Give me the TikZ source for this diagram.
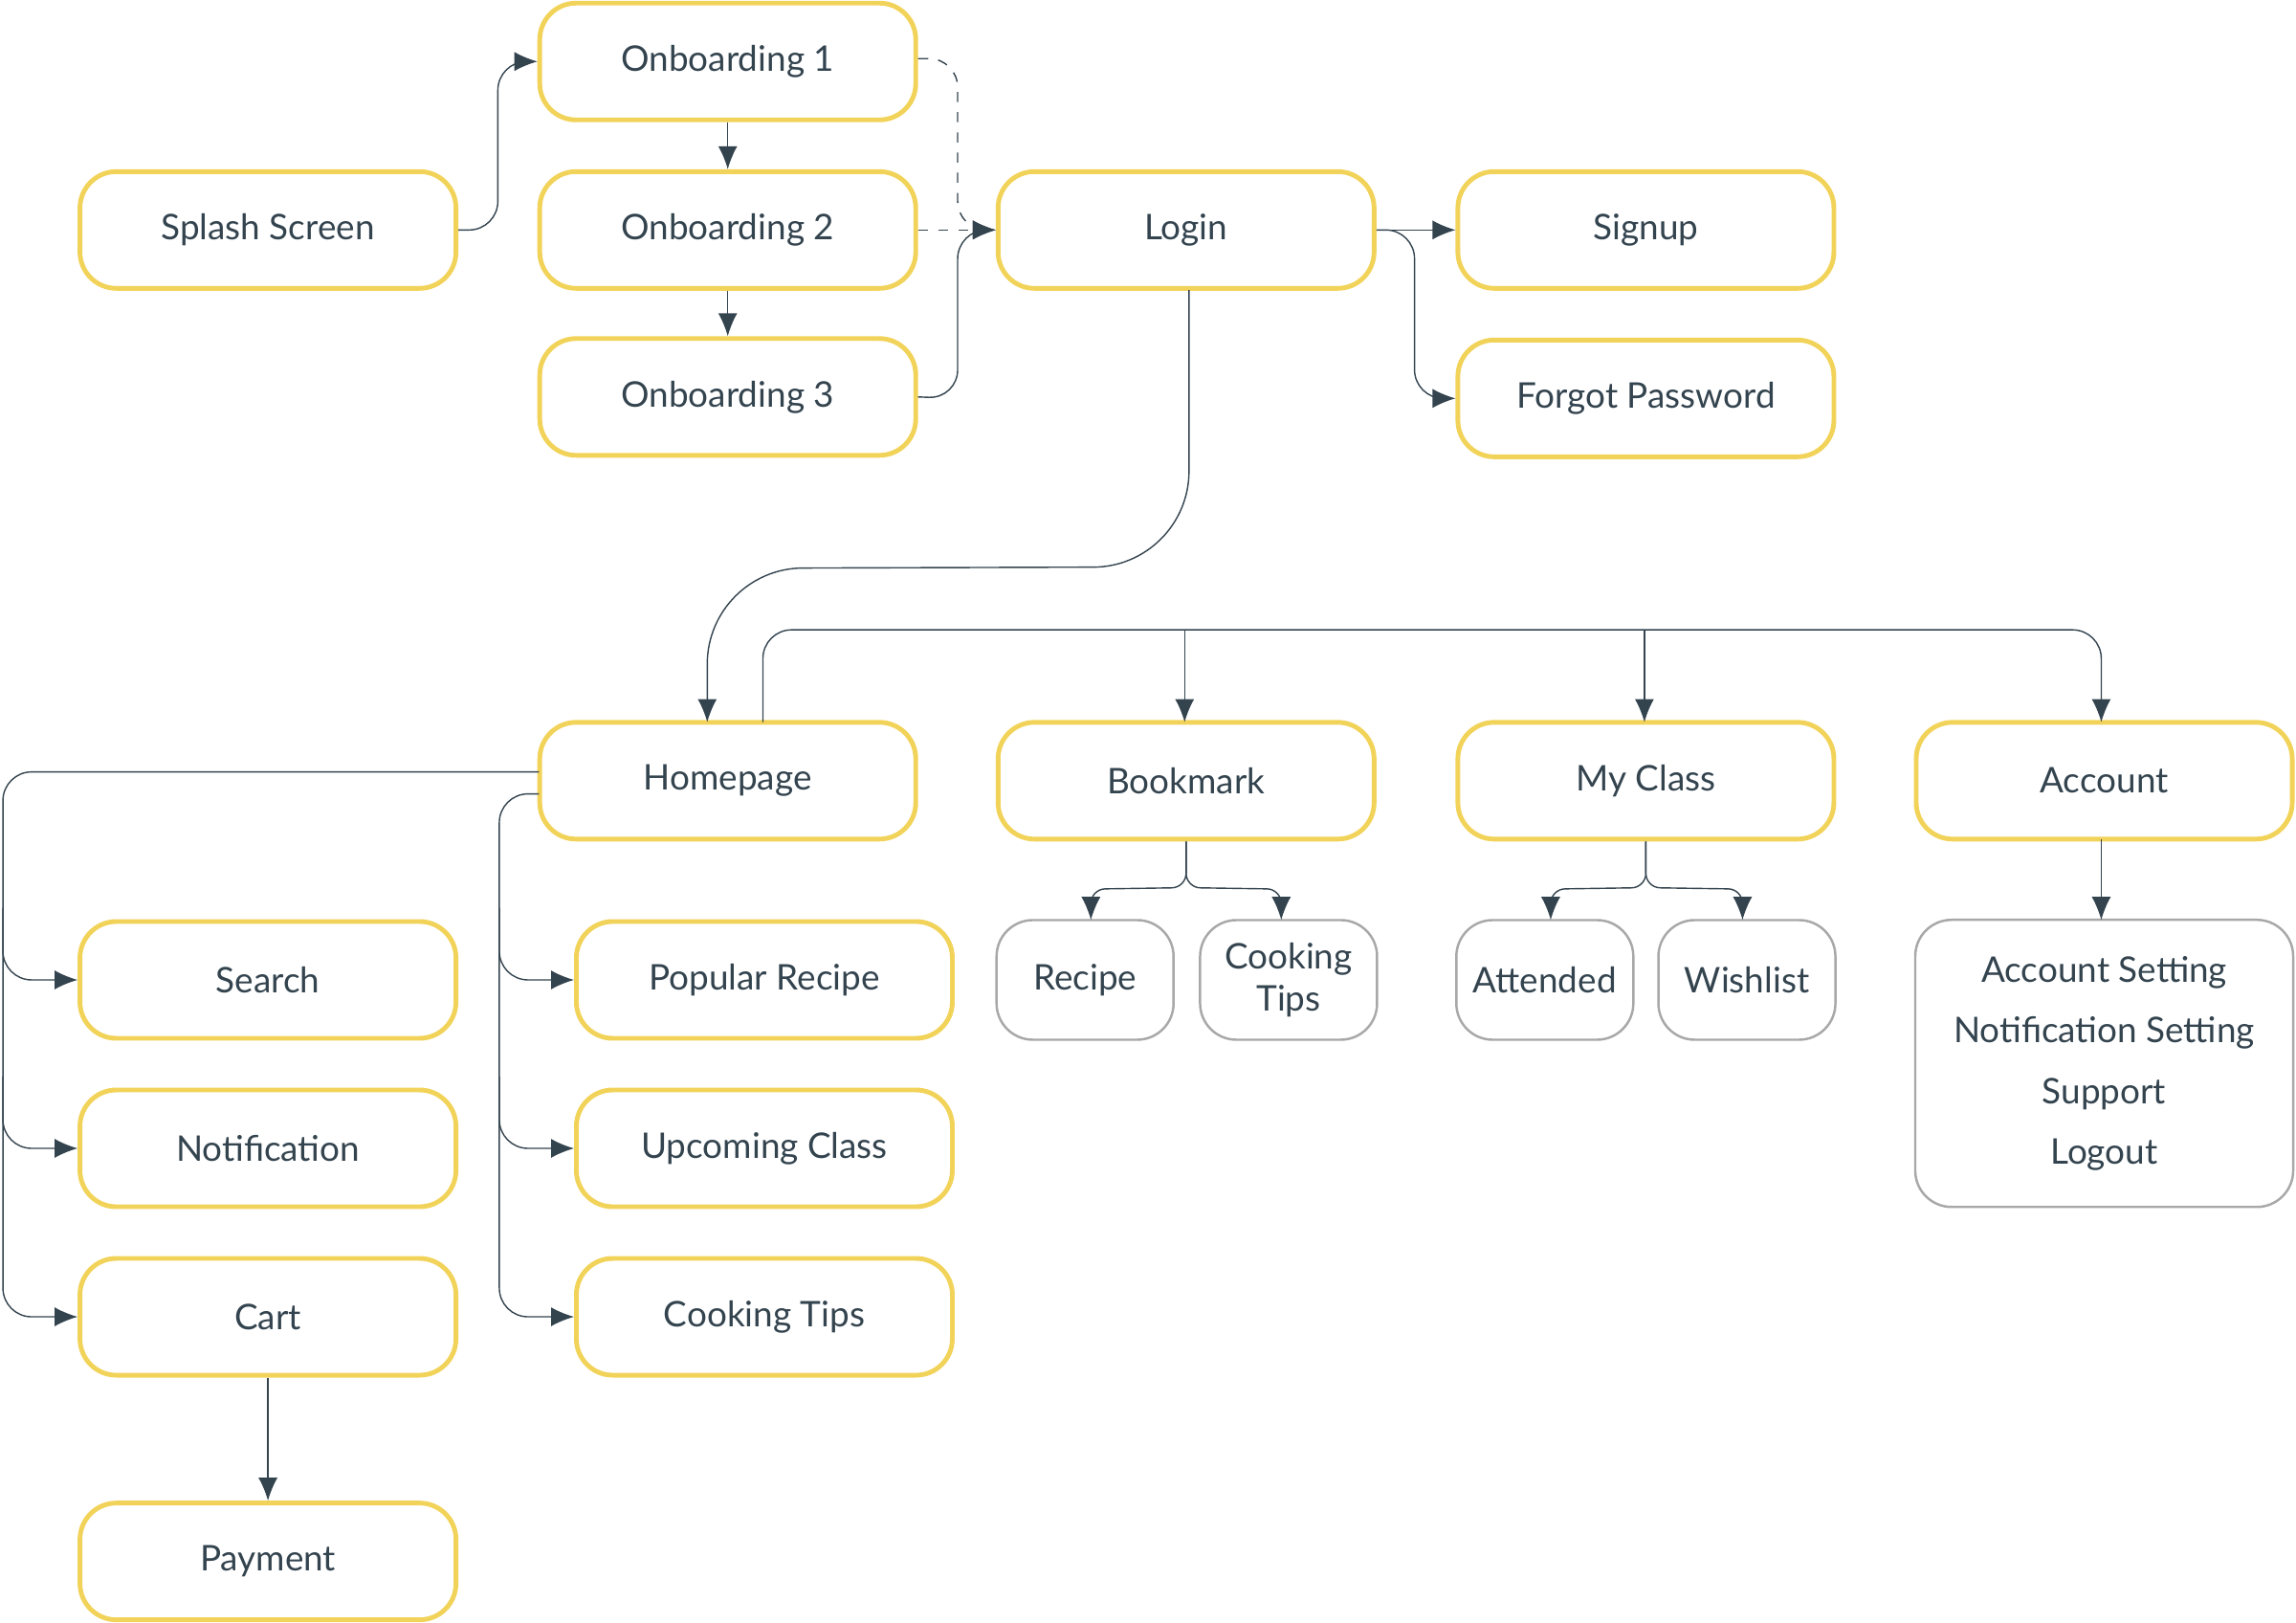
\documentclass[tikz,border=0pt]{standalone}
\usepackage{fontspec}
\setmainfont{Lato}
\usetikzlibrary{arrows.meta,positioning}
\definecolor{ink}{HTML}{34444F}
\definecolor{gold}{HTML}{F2D35A}
\definecolor{greyline}{HTML}{A8A8A8}
\tikzset{
	-{Latex[length=2.4mm,width=2mm]},semithick,
	format/.style ={draw=gold, line width=1.4pt, rounded corners=0.38cm, minimum width=3.93cm, minimum height=1.22cm, text=ink, font=\fontsize{10.5}{12}\selectfont, align=center},
	subbox/.style ={draw=greyline, line width=0.7pt, rounded corners=0.38cm, minimum width=1.85cm, minimum height=1.25cm, text=ink, font=\fontsize{10.5}{11}\selectfont, align=center},
	link/.style = {draw=ink, rounded corners=0.3cm}
}

\begin{document}
\begin{tikzpicture}[x=0.01531cm, y=-0.01531cm]
		\useasboundingbox (0,0) rectangle (1568,1108);
		% top flow
		\node[format] (splash) at (183,157) {Splash Screen};
		\node[format] (onb1) at (497,42) {Onboarding 1};
		\node[format] (onb2) at (497,157) {Onboarding 2};
		\node[format] (onb3) at (497,271) {Onboarding 3};
		\node[format] (login) at (810,157) {Login};
		\node[format] (signup) at (1124,157) {Signup};
		\node[format] (forgot) at (1124,272) {Forgot Password};
		% main tabs
		\node[format] (home) at (497,533) {Homepage};
		\node[format] (bookmark) at (810,533) {Bookmark};
		\node[format] (myclass) at (1124,533) {My Class};
		\node[format] (account) at (1437,533) {Account};
		% homepage children
		\node[format] (search) at (183,669) {Search};
		\node[format] (notif) at (183,784) {Notification};
		\node[format] (cart) at (183,899) {Cart};
		\node[format] (payment) at (183,1066) {Payment};
		\node[format] (popular) at (522,669) {Popular Recipe};
		\node[format] (upcoming) at (522,784) {Upcoming Class};
		\node[format] (tips) at (522,899) {Cooking Tips};
		% tab children
		\node[subbox] (recipe) at (741,669) {Recipe};
		\node[subbox, font=\fontsize{10.5}{12.5}\selectfont] (btips) at (880,669) {Cooking\\Tips};
		\node[subbox] (attended) at (1055,669) {Attended};
		\node[subbox] (wishlist) at (1193,669) {Wishlist};
		\node[subbox, minimum width=3.95cm, minimum height=3cm, align=center, font=\fontsize{10.5}{18}\selectfont] (settings) at (1437,726)
			{Account Setting\\Notification Setting\\Support\\Logout};

		\draw[link] (splash.east) -- (340,157) -- (340,42) -- (onb1.west);
		\draw[link] (onb1) -- (onb2);
		\draw[link] (onb2) -- (onb3);
		\draw[link, dashed] (627,40) -- (654,40) -- (654,157) -- (login.west);
		\draw[link, dashed] (onb2.east) -- (login.west);
		\draw[link] (onb3.east) -- (654,272) -- (654,157) -- (login.west);
		\draw[link] (login.east) -- (signup.west);
		\draw[link] (login.east) -- (966,157) -- (966,272) -- (forgot.west);
		\draw[link, rounded corners=1cm] (812,198) -- (812,387) -- (483,388) -- (483,493);
		% tab bus
		\draw[link] (521,493) -- (521,430) -- (1435,430) -- (1435,493);
		\draw[link] (809,430) -- (809,493);
		\draw[link] (1123,430) -- (1123,493);
		% homepage left branch
		\draw[link] (368,527) -- (2,527) -- (2,899) -- (cart.west);
		\draw[link] (2,620) -- (2,669) -- (search.west);
		\draw[link] (2,735) -- (2,784) -- (notif.west);
		\draw[link] (368,542) -- (341,542) -- (341,899) -- (tips.west);
		\draw[link] (341,620) -- (341,669) -- (popular.west);
		\draw[link] (341,735) -- (341,784) -- (upcoming.west);
		\draw[link] (cart) -- (payment);
		% tab children
		\draw[link, rounded corners=0.15cm] (bookmark.south) -- (810,606) -- (745,607) -- (745,628);
		\draw[link, rounded corners=0.15cm] (bookmark.south) -- (810,606) -- (875,607) -- (875,628);
		\draw[link, rounded corners=0.15cm] (myclass.south) -- (1124,606) -- (1059,607) -- (1059,628);
		\draw[link, rounded corners=0.15cm] (myclass.south) -- (1124,606) -- (1190,607) -- (1190,628);
		\draw[link] (1435,573) -- (1435,628);
\end{tikzpicture}
\end{document}
